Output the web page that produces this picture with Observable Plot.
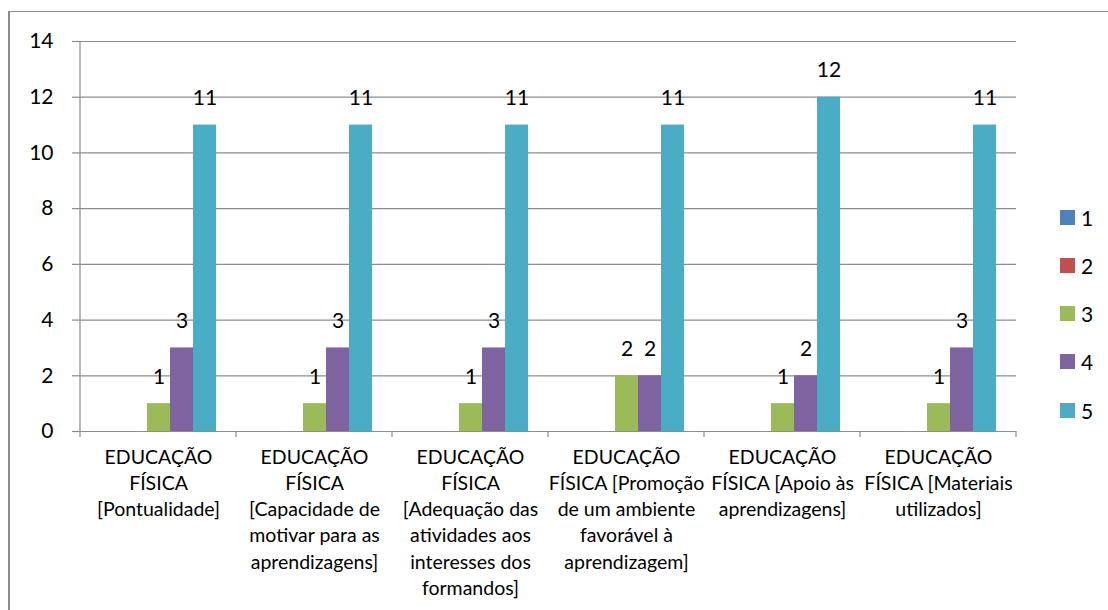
<!DOCTYPE html>
<html>
<head>
<meta charset="utf-8">
<script src="https://cdn.jsdelivr.net/npm/d3@7"></script>
<script src="https://cdn.jsdelivr.net/npm/@observablehq/plot@0.6"></script>
<style>
  html, body { margin: 0; padding: 0; background: #fff; overflow: hidden; }
  #wrap { position: relative; width: 1108px; height: 610px; overflow: hidden; font-family: Lato, sans-serif; }
  #border { position: absolute; left: 8px; top: 11px; width: 1300px; height: 800px;
            border-left: 2px solid #8a8a8a; border-top: 1px solid #8a8a8a; box-sizing: border-box; }
  #chart { position: absolute; left: 0; top: 0; }
  #legend { position: absolute; left: 1060px; top: 193px; display: flex; flex-direction: column; }
  .item { height: 48.25px; display: flex; align-items: center; font-size: 21px; color: #000; }
  .sw { width: 15px; height: 15px; margin-right: 6px; }
</style>
</head>
<body>
<div id="wrap">
  <div id="border"></div>
  <div id="chart"></div>
  <div id="legend"></div>
</div>
<script>
// Categories (with the line breaks used in the reference)
const categories = [
  "EDUCAÇÃO\nFÍSICA\n[Pontualidade]",
  "EDUCAÇÃO\nFÍSICA\n[Capacidade de\nmotivar para as\naprendizagens]",
  "EDUCAÇÃO\nFÍSICA\n[Adequação das\natividades aos\ninteresses dos\nformandos]",
  "EDUCAÇÃO\nFÍSICA [Promoção\nde um ambiente\nfavorável à\naprendizagem]",
  "EDUCAÇÃO\nFÍSICA [Apoio às\naprendizagens]",
  "EDUCAÇÃO\nFÍSICA [Materiais\nutilizados]"
];
const series = ["1", "2", "3", "4", "5"];
const values1 = [0, 0, 0, 0, 0, 0];
const values2 = [0, 0, 0, 0, 0, 0];
const values3 = [1, 1, 1, 2, 1, 1];
const values4 = [3, 3, 3, 2, 2, 3];
const values5 = [11, 11, 11, 11, 12, 11];
const colors = ["#4F81BD", "#C0504D", "#9BBB59", "#8064A2", "#4BACC6"];
const yTicks = [0, 2, 4, 6, 8, 10, 12, 14];

const seriesValues = [values1, values2, values3, values4, values5];
const rows = [];
categories.forEach((c, i) => {
  series.forEach((s, j) => rows.push({category: c, series: s, value: seriesValues[j][i]}));
});

const FONT = 19.5;
const NUMFONT = 21;
const GRID = "#8c8c8c";

const chart = Plot.plot({
  width: 1108,
  height: 610,
  marginLeft: 78,
  marginRight: 91,
  marginTop: 41,
  marginBottom: 179,
  style: {fontFamily: "Lato, sans-serif", fontSize: FONT + "px", color: "#000", background: "transparent"},
  fx: {domain: categories, padding: 0, label: null},
  x: {domain: series, paddingInner: 0, paddingOuter: 0.76, axis: null},
  y: {domain: [0, 14], label: null},
  color: {domain: series, range: colors},
  marks: [
    Plot.gridY(yTicks, {stroke: GRID, strokeOpacity: 1, strokeWidth: 1.2}),
    Plot.axisY(yTicks, {tickSize: 8, tickPadding: 19, stroke: GRID, strokeWidth: 1.2, fill: "#000", fontSize: NUMFONT, label: null}),
    Plot.barY(rows, {fx: "category", x: "series", y: "value", fill: "series"}),
    Plot.text(rows.filter(d => d.value > 0), {
      fx: "category", x: "series", y: "value", text: d => String(d.value),
      lineAnchor: "bottom", dy: -20, fill: "#000", fontSize: NUMFONT
    }),
    Plot.axisFx({anchor: "bottom", tickSize: 0, tickPadding: 14, lineHeight: 1.34, label: null, fontSize: FONT, fill: "#000"})
  ]
});

// Axis line and category separator ticks, placed with the chart's own scales
const fxs = chart.scale("fx");
const ys = chart.scale("y");
const g = d3.select(chart).append("g").attr("stroke", GRID).attr("stroke-width", 1.2);
const x0 = fxs.apply(categories[0]);
g.append("line").attr("x1", x0).attr("x2", x0).attr("y1", ys.apply(14)).attr("y2", ys.apply(0));
const edges = categories.map(c => fxs.apply(c));
edges.push(fxs.apply(categories[categories.length - 1]) + fxs.bandwidth);
edges.forEach(e => {
  g.append("line").attr("x1", e).attr("x2", e).attr("y1", ys.apply(0)).attr("y2", ys.apply(0) + 6);
});

document.getElementById("chart").appendChild(chart);

// Legend
const legend = d3.select("#legend");
series.forEach((s, j) => {
  const item = legend.append("div").attr("class", "item");
  item.append("div").attr("class", "sw").style("background", colors[j]);
  item.append("span").text(s);
});
</script>
</body>
</html>
